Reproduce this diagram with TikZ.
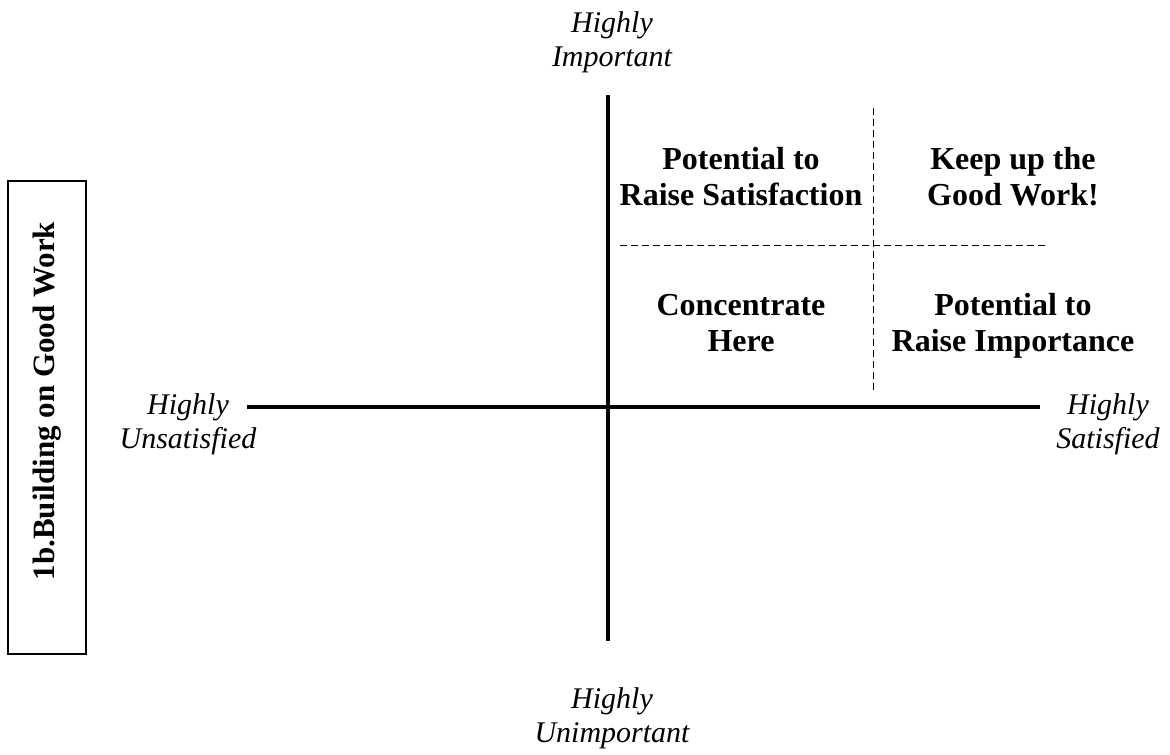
\documentclass[tikz,border=0pt]{standalone}
\usepackage{fontspec}
\setmainfont{Liberation Serif}
\begin{document}
\begin{tikzpicture}[x=1pt,y=-1pt,
  quad/.style={font=\fontsize{32}{36}\selectfont\bfseries, align=center, inner sep=0pt},
  pole/.style={font=\fontsize{30}{34}\selectfont\itshape, align=center, inner sep=0pt},
  axis/.style={line width=3.5pt},
  divider/.style={line width=0.8pt, dash pattern=on 7pt off 4pt}]
\useasboundingbox (0,0) rectangle (1170,755);
% axes
\coordinate (vtop) at (608,95);
\coordinate (vbot) at (608,641);
\coordinate (hl) at (247,407);
\coordinate (hr) at (1040,407);
\draw[axis] (vtop) -- (vbot);
\draw[axis] (hl) -- (hr);
% dashed dividers
\coordinate (dt) at (873,108);
\coordinate (db) at (873,390);
\coordinate (dl) at (620,245);
\coordinate (dr) at (1048,245);
\draw[divider] (dt) -- (db);
\draw[divider] (dl) -- (dr);
% quadrant labels
\node[quad] (q1) at (741,177) {Potential to\\Raise Satisfaction};
\node[quad] (q2) at (1013,177) {Keep up the\\Good Work!};
\node[quad] (q3) at (741,323) {Concentrate\\Here};
\node[quad] (q4) at (1013,326) {Potential to\\Raise Importance};
% pole labels
\node[pole] (top) at (612,42) {Highly\\Important};
\node[pole] (bot) at (612,718) {Highly\\Unimportant};
\node[pole] (left) at (188,424) {Highly\\Unsatisfied};
\node[pole] (right) at (1108,424) {Highly\\Satisfied};
% title box
\draw[line width=1.3pt] (8,181) rectangle (86,654);
\node[font=\fontsize{31}{36}\selectfont\bfseries, rotate=90, inner sep=0pt] (title) at (47,401) {1b.Building on Good Work};
\end{tikzpicture}
\end{document}
